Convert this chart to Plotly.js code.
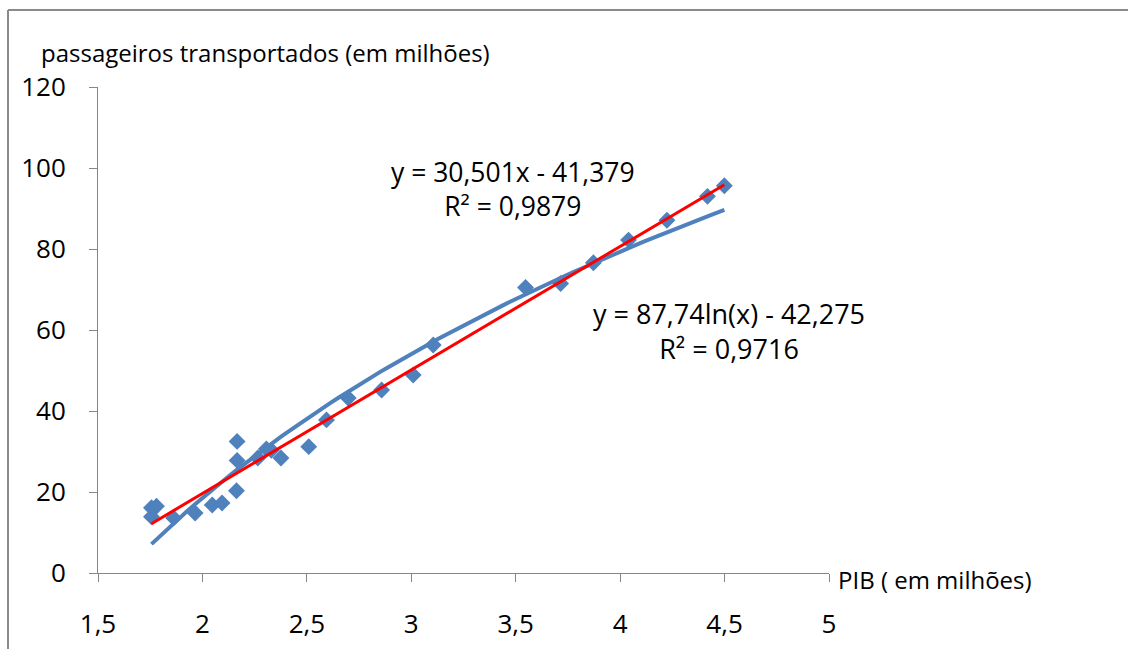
<!DOCTYPE html>
<html><head><meta charset="utf-8">
<script src="https://cdn.plot.ly/plotly-3.0.1.min.js"></script>
<style>html,body{margin:0;padding:0;background:#fff}#chart{width:1128px;height:649px}</style>
</head><body><div id="chart"></div>
<script>
// PIB (em milhões)
const pib = [1.756, 1.780, 1.756, 1.862, 1.965, 2.047, 2.094, 2.163, 2.166, 2.166, 2.265, 2.306, 2.330, 2.376, 2.509, 2.594, 2.698, 2.858, 3.009, 3.105, 3.547, 3.715, 3.872, 4.040, 4.224, 4.418, 4.499];
// passageiros transportados (em milhões)
const passageiros = [16.1, 16.5, 13.9, 13.6, 14.8, 16.8, 17.3, 20.3, 32.5, 27.8, 28.4, 30.6, 30.3, 28.4, 31.2, 37.8, 43.2, 45.2, 48.9, 56.3, 70.5, 71.5, 76.6, 82.2, 87.1, 93.0, 95.6];

const linSlope = 30.501, linIntercept = -41.379, linR2 = '0,9879';
const logCoef = 87.74, logIntercept = -42.275, logR2 = '0,9716';

const xTickVals = [1.5, 2, 2.5, 3, 3.5, 4, 4.5, 5];
const xTickText = ['1,5', '2', '2,5', '3', '3,5', '4', '4,5', '5'];
const yTickVals = [0, 20, 40, 60, 80, 100, 120];
const yTickText = ['0', '20', '40', '60', '80', '100', '120'];

const yTitle = 'passageiros transportados (em milhões)';
const xTitle = 'PIB ( em milhões)';

const xMin = Math.min(...pib), xMax = Math.max(...pib);
const trendX = [];
const N = 80;
for (let i = 0; i <= N; i++) trendX.push(xMin + (xMax - xMin) * i / N);
const logY = trendX.map(x => logCoef * Math.log(x) + logIntercept);
const linX = [xMin, xMax];
const linY = linX.map(x => linSlope * x + linIntercept);

const FONT = 'Open Sans, sans-serif';
const L = 98, R = 299, T = 87, B = 76, W = 1128, H = 649;
const pw = W - L - R, ph = H - T - B;
const px = v => (v - L) / pw;
const py = v => (H - B - v) / ph;

const traces = [
  {x: pib, y: passageiros, type: 'scatter', mode: 'markers',
   marker: {symbol: 'diamond', size: 13, color: '#4F81BD'}, hoverinfo: 'x+y'},
  {x: trendX, y: logY, type: 'scatter', mode: 'lines',
   line: {color: '#4F81BD', width: 4}, hoverinfo: 'skip'},
  {x: linX, y: linY, type: 'scatter', mode: 'lines',
   line: {color: '#FF0000', width: 3}, hoverinfo: 'skip'}
];

const axisCommon = {
  showgrid: false, zeroline: false, showline: true, linecolor: '#868686', linewidth: 1,
  ticks: 'outside', ticklen: 8, tickcolor: '#868686', tickwidth: 1,
  tickfont: {family: FONT, size: 26, color: '#000'}, fixedrange: true
};

const layout = {
  width: W, height: H,
  margin: {l: L, r: R, t: T, b: B, pad: 0},
  paper_bgcolor: '#fff', plot_bgcolor: '#fff',
  showlegend: false,
  font: {family: FONT, color: '#000'},
  xaxis: Object.assign({}, axisCommon, {range: [1.5, 5], tickmode: 'array', tickvals: xTickVals, ticktext: xTickText, ticklabelstandoff: 20}),
  yaxis: Object.assign({}, axisCommon, {range: [0, 120], tickmode: 'array', tickvals: yTickVals, ticktext: yTickText, ticklabelstandoff: 18}),
  annotations: [
    {text: yTitle, xref: 'paper', yref: 'paper', x: px(40), y: py(53), xanchor: 'left', yanchor: 'middle', showarrow: false, borderpad: 0, font: {family: FONT, size: 24, color: '#000'}},
    {text: xTitle, xref: 'paper', yref: 'paper', x: px(836), y: py(579), xanchor: 'left', yanchor: 'middle', showarrow: false, font: {family: FONT, size: 24, color: '#000'}},
    {text: 'y = 30,501x - 41,379<br>R² = ' + linR2, xref: 'paper', yref: 'paper', x: px(513), y: py(189), xanchor: 'center', yanchor: 'middle', align: 'center', showarrow: false, font: {family: FONT, size: 26.5, color: '#000'}},
    {text: 'y = 87,74ln(x) - 42,275<br>R² = ' + logR2, xref: 'paper', yref: 'paper', x: px(729), y: py(331), xanchor: 'center', yanchor: 'middle', align: 'center', showarrow: false, font: {family: FONT, size: 27, color: '#000'}}
  ],
  shapes: [
    {type: 'line', xref: 'paper', yref: 'paper', x0: px(8), x1: px(1128), y0: py(10), y1: py(10), line: {color: '#8a8a8a', width: 2}},
    {type: 'line', xref: 'paper', yref: 'paper', x0: px(8), x1: px(8), y0: py(10), y1: py(649), line: {color: '#8a8a8a', width: 2}}
  ]
};

Plotly.newPlot('chart', traces, layout, {displayModeBar: false, staticPlot: true});
</script>
</body></html>
